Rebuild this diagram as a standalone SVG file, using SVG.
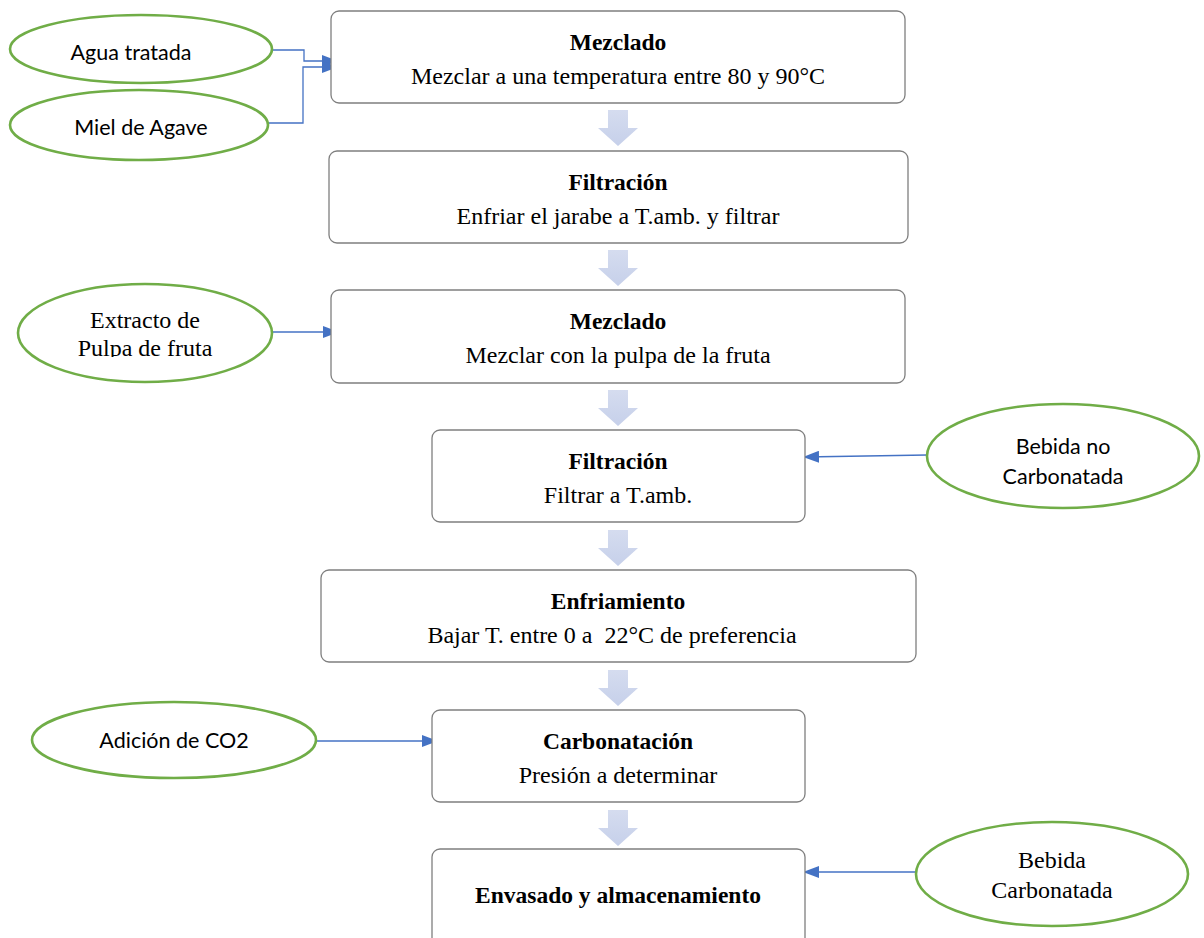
<svg xmlns="http://www.w3.org/2000/svg" width="1204" height="938" viewBox="0 0 1204 938">
<style>
.box{fill:#fff;stroke:#7f7f7f;stroke-width:1.3}
.ell{fill:#fff;stroke:#70ad47;stroke-width:2.6}
.t{font-family:"Liberation Serif","Times New Roman",serif;font-size:24px;fill:#000;text-anchor:middle}
.b{font-weight:bold;font-size:23.5px}
.s{font-family:Lato,"Liberation Sans",sans-serif;font-size:21.5px;fill:#000;text-anchor:middle}
.con{fill:none;stroke:#4472c4;stroke-width:1.3}
.blk{fill:url(#g)}
.pre{white-space:pre}
</style>
<defs>
<marker id="ah" markerWidth="16" markerHeight="12" refX="15" refY="6" orient="auto" markerUnits="userSpaceOnUse">
<path d="M0,0 L16,6 L0,12 Z" fill="#4472c4"/>
</marker>
<linearGradient id="g" x1="0" y1="0" x2="0" y2="1">
<stop offset="0" stop-color="#d5dcef"/>
<stop offset="1" stop-color="#c6d0ea"/>
</linearGradient>
<clipPath id="clipE3"><rect x="0" y="280" width="300" height="77"/></clipPath>
</defs>

<g id="connectors">
<polyline class="con" points="272,50 304,50 304,61 337,61" marker-end="url(#ah)"/>
<polyline class="con" points="268,123 303,123 303,67 337,67" marker-end="url(#ah)"/>
<line class="con" x1="272" y1="332" x2="338" y2="332" marker-end="url(#ah)"/>
<line class="con" x1="927" y1="455" x2="804" y2="457" marker-end="url(#ah)"/>
<line class="con" x1="317" y1="741" x2="437" y2="741" marker-end="url(#ah)"/>
<line class="con" x1="916" y1="872" x2="804" y2="872" marker-end="url(#ah)"/>
<path class="blk" d="M608,110 H628 V128 H638 L618,146 L598,128 H608 Z"/>
<path class="blk" d="M608,250 H628 V268 H638 L618,286 L598,268 H608 Z"/>
<path class="blk" d="M608,390 H628 V408 H638 L618,426 L598,408 H608 Z"/>
<path class="blk" d="M608,530 H628 V548 H638 L618,566 L598,548 H608 Z"/>
<path class="blk" d="M608,670 H628 V688 H638 L618,706 L598,688 H608 Z"/>
<path class="blk" d="M608,810 H628 V828 H638 L618,846 L598,828 H608 Z"/>
</g>

<g id="n1"><rect class="box" x="331" y="11" width="574" height="92" rx="8"/>
<text class="t b" x="618" y="50">Mezclado</text>
<text class="t" x="618" y="84">Mezclar a una temperatura entre 80 y 90°C</text></g>

<g id="n2"><rect class="box" x="329" y="151" width="579" height="92" rx="8"/>
<text class="t b" x="618" y="190">Filtración</text>
<text class="t" x="618" y="224">Enfriar el jarabe a T.amb. y filtrar</text></g>

<g id="n3"><rect class="box" x="331" y="290" width="574" height="93" rx="8"/>
<text class="t b" x="618" y="329">Mezclado</text>
<text class="t" x="618" y="363">Mezclar con la pulpa de la fruta</text></g>

<g id="n4"><rect class="box" x="432" y="430" width="373" height="92" rx="8"/>
<text class="t b" x="618" y="469">Filtración</text>
<text class="t" x="618" y="503">Filtrar a T.amb.</text></g>

<g id="n5"><rect class="box" x="321" y="570" width="595" height="92" rx="8"/>
<text class="t b" x="618" y="609">Enfriamiento</text>
<text class="t pre" x="612" y="643" xml:space="preserve">Bajar T. entre 0 a  22°C de preferencia</text></g>

<g id="n6"><rect class="box" x="432" y="710" width="373" height="92" rx="8"/>
<text class="t b" x="618" y="749">Carbonatación</text>
<text class="t" x="618" y="783">Presión a determinar</text></g>

<g id="n7"><rect class="box" x="432" y="849" width="373" height="100" rx="8"/>
<text class="t b" x="618" y="903">Envasado y almacenamiento</text></g>

<g id="e1"><ellipse class="ell" cx="141" cy="49" rx="131" ry="34"/>
<text class="s" x="131" y="60">Agua tratada</text></g>

<g id="e2"><ellipse class="ell" cx="139" cy="125" rx="129" ry="35"/>
<text class="s" x="141" y="135">Miel de Agave</text></g>

<g id="e3"><ellipse class="ell" cx="145" cy="333" rx="127" ry="49"/>
<text class="t" x="145" y="328">Extracto de</text>
<text class="t" x="145" y="356" clip-path="url(#clipE3)">Pulpa de fruta</text></g>

<g id="e4"><ellipse class="ell" cx="1063" cy="456" rx="136" ry="52"/>
<text class="s" x="1063" y="454">Bebida no</text>
<text class="s" x="1063" y="484">Carbonatada</text></g>

<g id="e5"><ellipse class="ell" cx="174" cy="740" rx="142" ry="38"/>
<text class="s" x="174" y="748">Adición de CO2</text></g>

<g id="e6"><ellipse class="ell" cx="1052" cy="874" rx="136" ry="52"/>
<text class="t" x="1052" y="868">Bebida</text>
<text class="t" x="1052" y="898">Carbonatada</text></g>
</svg>
